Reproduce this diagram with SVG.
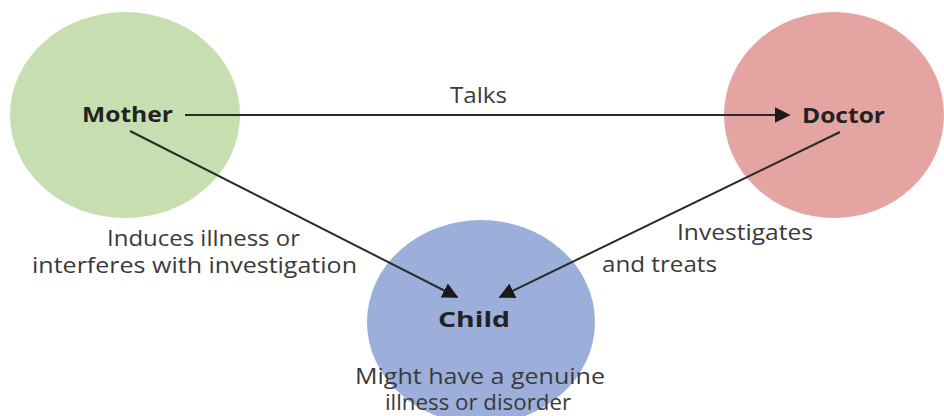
<svg xmlns="http://www.w3.org/2000/svg" width="944" height="416" viewBox="0 0 944 416">
<defs>
<style>
.lbl{font-family:"Open Sans","Noto Sans",sans-serif;font-size:21px;fill:#3a3a3a}
.name{font-family:"Open Sans","Noto Sans",sans-serif;font-size:21px;font-weight:bold;fill:#222}
.edge{stroke:#2a2a2a;stroke-width:2;fill:none}
</style>
<marker id="ah2" viewBox="0 0 10 10" refX="9" refY="5" markerWidth="16" markerHeight="16" markerUnits="userSpaceOnUse" orient="auto">
<path d="M0,0 L10,5 L0,10 z" fill="#1a1a1a"/>
</marker>
</defs>
<rect width="944" height="416" fill="#ffffff"/>
<g id="mother">
<ellipse cx="125" cy="115" rx="115" ry="103" fill="#c6deb0"/>
<text class="name" x="82" y="122" textLength="91" lengthAdjust="spacingAndGlyphs">Mother</text>
</g>
<g id="doctor">
<ellipse cx="834" cy="115" rx="110" ry="103" fill="#e4a4a2"/>
<text class="name" x="802" y="123" textLength="83" lengthAdjust="spacingAndGlyphs">Doctor</text>
</g>
<g id="child">
<ellipse cx="481" cy="322" rx="114" ry="102" fill="#9cafdb"/>
<text class="name" x="438" y="327" textLength="72" lengthAdjust="spacingAndGlyphs">Child</text>
<text class="lbl" x="355" y="384" textLength="250" lengthAdjust="spacingAndGlyphs">Might have a genuine</text>
<text class="lbl" x="385" y="410" textLength="186" lengthAdjust="spacingAndGlyphs">illness or disorder</text>
</g>
<g id="connectors">
<line class="edge" x1="185" y1="115" x2="789" y2="115" marker-end="url(#ah2)"/>
<text class="lbl" x="450" y="103" textLength="57" lengthAdjust="spacingAndGlyphs">Talks</text>
<line class="edge" x1="130" y1="131" x2="457" y2="297" marker-end="url(#ah2)"/>
<text class="lbl" x="107" y="246" textLength="193" lengthAdjust="spacingAndGlyphs">Induces illness or</text>
<text class="lbl" x="32" y="273" textLength="325" lengthAdjust="spacingAndGlyphs">interferes with investigation</text>
<line class="edge" x1="840" y1="132" x2="500" y2="297" marker-end="url(#ah2)"/>
<text class="lbl" x="677" y="240" textLength="136" lengthAdjust="spacingAndGlyphs">Investigates</text>
<text class="lbl" x="602" y="272" textLength="115" lengthAdjust="spacingAndGlyphs">and treats</text>
</g>
</svg>
